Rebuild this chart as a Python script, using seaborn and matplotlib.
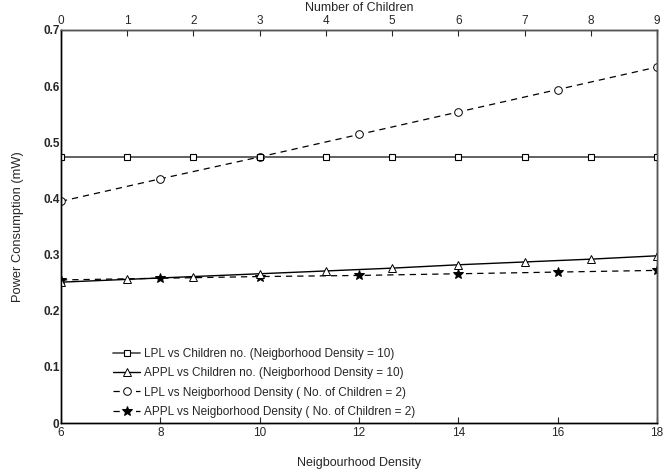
import numpy as np
import pandas as pd
import matplotlib
matplotlib.use('Agg')
from matplotlib import pyplot as plt
import seaborn as sns

# values
children = [0, 1, 2, 3, 4, 5, 6, 7, 8, 9]
lpl_children = [0.474, 0.474, 0.474, 0.474, 0.474, 0.474, 0.474, 0.474, 0.474, 0.474]
appl_children = [0.251, 0.256, 0.261, 0.266, 0.271, 0.276, 0.282, 0.287, 0.292, 0.298]

density = [6, 8, 10, 12, 14, 16, 18]
lpl_density = [0.395, 0.435, 0.474, 0.514, 0.554, 0.594, 0.634]
appl_density = [0.255, 0.258, 0.261, 0.263, 0.266, 0.269, 0.272]

sns.set_style('white')
plt.rcParams['font.family'] = ['Liberation Sans', 'DejaVu Sans']
plt.rcParams['xtick.direction'] = 'in'
plt.rcParams['ytick.direction'] = 'in'

fig = plt.figure(figsize=(6.63, 4.76), dpi=100)
ax = fig.add_axes([0.092, 0.111, 0.899, 0.826])
ax2 = ax.twiny()

# solid lines vs number of children (top axis)
sns.lineplot(x=children, y=lpl_children, ax=ax2, color='#555555', lw=1.3,
             marker='s', ms=4, mfc='white', mec='black', mew=0.8,
             label='LPL vs Children no. (Neigborhood Density = 10)', legend=False)
sns.lineplot(x=children, y=appl_children, ax=ax2, color='black', lw=1.0,
             marker='^', ms=5.5, mfc='white', mec='black', mew=0.7,
             label='APPL vs Children no. (Neigborhood Density = 10)', legend=False)

# dashed lines vs neighbourhood density (bottom axis)
sns.lineplot(x=density, y=lpl_density, ax=ax, color='black', lw=0.9, linestyle=(0, (5, 4)),
             marker='o', ms=5.5, mfc='white', mec='black', mew=0.7,
             label='LPL vs Neigborhood Density ( No. of Children = 2)', legend=False)
sns.lineplot(x=density, y=appl_density, ax=ax, color='black', lw=0.9, linestyle=(0, (5, 4)),
             marker='*', ms=7, mfc='black', mec='black',
             label='APPL vs Neigborhood Density ( No. of Children = 2)', legend=False)

ax.set_xlim(6, 18)
ax.set_ylim(0, 0.7)
ax2.set_xlim(0, 9)
ax2.set_ylim(0, 0.7)
ax.set_xticks(density)
ax2.set_xticks(children)
ax.set_yticks(np.arange(0, 0.71, 0.1))
ax.set_yticklabels(['0', '0.1', '0.2', '0.3', '0.4', '0.5', '0.6', '0.7'], fontweight='bold')

ax.set_xlabel('Neigbourhood Density', fontsize=9, labelpad=13)
ax.set_ylabel('Power Consumption (mW)', fontsize=9.3, labelpad=14)
ax2.set_xlabel('Number of Children', fontsize=9, labelpad=3)
ax.tick_params(axis='both', labelsize=8.5, length=4, width=0.8, pad=3)
ax2.tick_params(axis='x', labelsize=8.5, length=4, width=0.8, pad=2)
ax.tick_params(axis='y', pad=1)

for a in (ax, ax2):
    for s in a.spines.values():
        s.set_color('black')
        s.set_linewidth(1.0)
ax2.spines['top'].set_color('#555555')
ax2.spines['right'].set_color('#555555')

h1, l1 = ax2.get_legend_handles_labels()
h2, l2 = ax.get_legend_handles_labels()
ax2.legend(h1 + h2, l1 + l2, loc='lower left', bbox_to_anchor=(0.07, -0.013),
           frameon=False, fontsize=8.5, handlelength=2.3, handletextpad=0.3,
           labelspacing=0.6)

fig.savefig('out.png', dpi=100)
